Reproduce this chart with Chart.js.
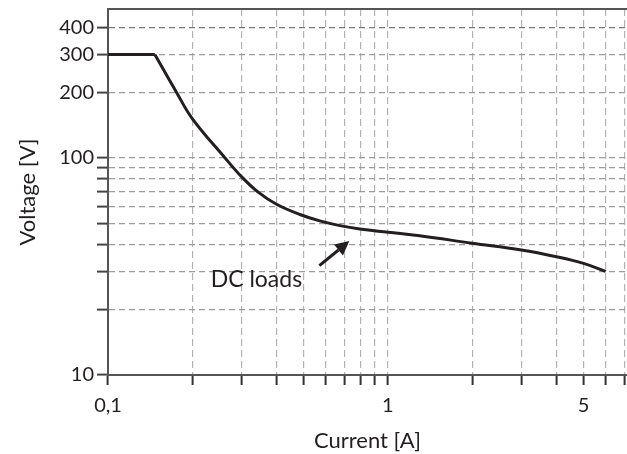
<!DOCTYPE html>
<html lang="en">
<head>
    <meta charset="UTF-8">
    <title>DC loads</title>
    <style>
        body {
            margin: 0;
            background: #ffffff;
        }
        #wrap {
            width: 627px;
            height: 454px;
        }
    </style>
</head>
<body>
    <div id="wrap"><canvas id="loadChart" width="627" height="454"></canvas></div>
    <script src="https://cdn.jsdelivr.net/npm/chart.js"></script>
    <script>
        // curve (current in A, voltage in V)
        const flatCurrent = [0.1, 0.147];
        const flatVoltage = [300, 300];
        const curveCurrent = [0.147, 0.176, 0.2, 0.262, 0.3, 0.344, 0.4, 0.485, 0.571, 0.674, 0.794, 1, 1.3, 2, 3, 4, 5, 6];
        const curveVoltage = [300, 200, 152, 100, 82, 69.6, 61.2, 54.9, 51.3, 48.8, 47.1, 45.5, 43.8, 40.5, 37.7, 35.1, 32.7, 30];

        // axis ticks
        const xTicks = [0.1, 0.2, 0.3, 0.4, 0.5, 0.6, 0.7, 0.8, 0.9, 1, 2, 3, 4, 5, 6, 7];
        const xLabelValues = [0.1, 1, 5];
        const xLabelText = ['0,1', '1', '5'];
        const yTicks = [10, 20, 30, 40, 50, 60, 70, 80, 90, 100, 200, 300, 400];
        const yLabelValues = [10, 100, 200, 300, 400];
        const xRange = [0.1, 7.15];
        const yRange = [10, 486];

        // annotation: text position and arrow (tail, head) in data units
        const noteText = 'DC loads';
        const notePos = [0.339, 25.5];
        const arrowTail = [0.569, 31.9];
        const arrowHead = [0.728, 41.4];

        const font = 'Lato, "Noto Sans", sans-serif';
        const ink = '#231f20';

        const toPoints = (xs, ys) => xs.map((x, i) => ({ x: x, y: ys[i] }));

        const extras = {
            id: 'extras',
            afterDatasetsDraw(chart) {
                const ctx = chart.ctx;
                const area = chart.chartArea;
                const xs = chart.scales.x;
                const ys = chart.scales.y;
                ctx.save();
                // top frame line
                ctx.strokeStyle = '#555';
                ctx.lineWidth = 2;
                ctx.beginPath();
                ctx.moveTo(area.left - 1, area.top);
                ctx.lineTo(chart.width, area.top);
                ctx.stroke();

                // label
                ctx.fillStyle = ink;
                ctx.font = '23px ' + font;
                ctx.textAlign = 'center';
                ctx.textBaseline = 'alphabetic';
                ctx.fillText(noteText, xs.getPixelForValue(notePos[0]), ys.getPixelForValue(notePos[1]));

                // arrow
                const x1 = xs.getPixelForValue(arrowTail[0]);
                const y1 = ys.getPixelForValue(arrowTail[1]);
                const x2 = xs.getPixelForValue(arrowHead[0]);
                const y2 = ys.getPixelForValue(arrowHead[1]);
                const ang = Math.atan2(y2 - y1, x2 - x1);
                const headLen = 14, headW = 7;
                const bx = x2 - headLen * Math.cos(ang);
                const by = y2 - headLen * Math.sin(ang);
                ctx.strokeStyle = ink;
                ctx.lineWidth = 3;
                ctx.beginPath();
                ctx.moveTo(x1, y1);
                ctx.lineTo(bx, by);
                ctx.stroke();
                ctx.beginPath();
                ctx.moveTo(x2, y2);
                ctx.lineTo(bx + headW * Math.sin(ang), by - headW * Math.cos(ang));
                ctx.lineTo(bx - headW * Math.sin(ang), by + headW * Math.cos(ang));
                ctx.closePath();
                ctx.fill();
                ctx.restore();
            }
        };

        new Chart(document.getElementById('loadChart'), {
            type: 'line',
            data: {
                datasets: [{
                    data: toPoints(flatCurrent, flatVoltage),
                    borderColor: ink,
                    borderWidth: 3,
                    pointRadius: 0,
                    tension: 0
                }, {
                    data: toPoints(curveCurrent, curveVoltage),
                    borderColor: ink,
                    borderWidth: 3,
                    pointRadius: 0,
                    tension: 0.4
                }]
            },
            options: {
                responsive: false,
                animation: false,
                layout: { padding: { top: 9, right: 0, left: 0, bottom: 0 } },
                plugins: {
                    legend: { display: false },
                    tooltip: { enabled: false }
                },
                scales: {
                    x: {
                        type: 'logarithmic',
                        min: xRange[0],
                        max: xRange[1],
                        afterBuildTicks: (scale) => {
                            scale.ticks = xTicks.map(v => ({ value: v }));
                        },
                        afterFit: (scale) => {
                            scale.height = 79;
                            scale.paddingLeft = 0;
                            scale.paddingRight = 0;
                        },
                        ticks: {
                            autoSkip: false,
                            maxRotation: 0,
                            padding: 9,
                            color: ink,
                            font: { family: font, size: 20 },
                            callback: (value) => {
                                const i = xLabelValues.indexOf(value);
                                return i >= 0 ? xLabelText[i] : '';
                            }
                        },
                        grid: {
                            color: (c) => c.tick && c.tick.value === 0.1 ? 'rgba(0,0,0,0)' : '#b3b3b3',
                            lineWidth: 1.2,
                            tickLength: 10,
                            tickColor: '#333',
                            tickWidth: 2
                        },
                        border: { display: true, color: '#555', width: 2, dash: [7, 4] },
                        title: {
                            display: true,
                            text: 'Current [A]',
                            color: ink,
                            font: { family: font, size: 22 },
                            padding: { top: 0, bottom: 0 }
                        }
                    },
                    y: {
                        type: 'logarithmic',
                        min: yRange[0],
                        max: yRange[1],
                        afterBuildTicks: (scale) => {
                            scale.ticks = yTicks.map(v => ({ value: v }));
                        },
                        afterFit: (scale) => {
                            scale.width = 108;
                            scale.paddingTop = 0;
                            scale.paddingBottom = 0;
                        },
                        ticks: {
                            autoSkip: false,
                            padding: 3,
                            color: ink,
                            font: { family: font, size: 20 },
                            callback: (value) => yLabelValues.indexOf(value) >= 0 ? String(value) : ''
                        },
                        grid: {
                            color: (c) => {
                                if (!c.tick || c.tick.value === 10) return 'rgba(0,0,0,0)';
                                return c.tick.value === 400 ? '#7a7a7a' : '#9c9c9c';
                            },
                            lineWidth: 1.2,
                            tickLength: 11,
                            tickColor: '#444',
                            tickWidth: 2
                        },
                        border: { display: true, color: '#555', width: 2, dash: [6, 4] },
                        title: {
                            display: true,
                            text: 'Voltage [V]',
                            color: ink,
                            font: { family: font, size: 22 },
                            padding: { top: 15, bottom: 0 }
                        }
                    }
                }
            },
            plugins: [extras]
        });
    </script>
</body>
</html>
